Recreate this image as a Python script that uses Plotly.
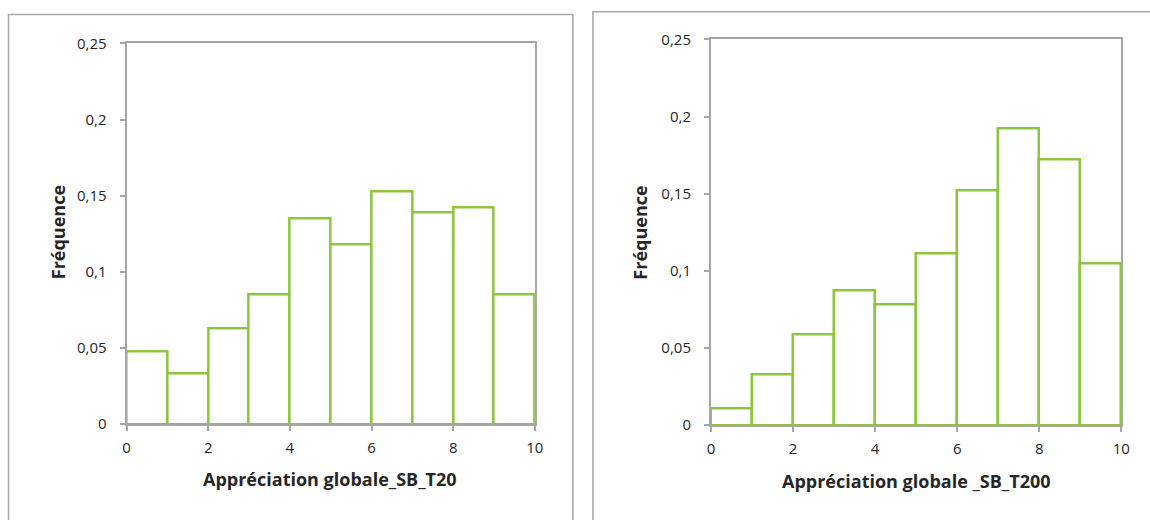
import plotly.graph_objects as go

# Data
bin_edges = [0, 1, 2, 3, 4, 5, 6, 7, 8, 9, 10]
freq_t20 = [0.048, 0.033, 0.063, 0.085, 0.135, 0.118, 0.153, 0.139, 0.142, 0.085]
freq_t200 = [0.011, 0.033, 0.059, 0.087, 0.078, 0.111, 0.152, 0.192, 0.172, 0.105]
x_ticks = [0, 2, 4, 6, 8, 10]
y_ticks = [0, 0.05, 0.1, 0.15, 0.2, 0.25]
y_tick_text = ["0", "0,05", "0,1", "0,15", "0,2", "0,25"]
y_title = "Fréquence"
x_title_left = "Appréciation globale_SB_T20"
x_title_right = "Appréciation globale _SB_T200"

W, H = 1150, 520
GREEN = "#8CC63F"
GREY = "#A6A6A6"
FONT = "Open Sans"

# empirical correction between page pixels and the photographed picture
SX, BX = 0.988, 3.5
SY, BY = 0.965, 9.5

centers = [(bin_edges[i] + bin_edges[i + 1]) / 2 for i in range(len(bin_edges) - 1)]

fig = go.Figure()
for vals, xa, ya in [(freq_t20, "x", "y"), (freq_t200, "x2", "y2")]:
    fig.add_trace(go.Bar(
        x=centers, y=vals, width=1, xaxis=xa, yaxis=ya,
        marker=dict(color="white", line=dict(color=GREEN, width=2.5)),
        showlegend=False, hoverinfo="skip",
    ))

def px_x(q):
    p = (q - BX) / SX
    return p / W

def px_y(q):
    p = (q - BY) / SY
    return 1 - p / H

axis_common = dict(showline=True, linecolor=GREY, linewidth=2, mirror=True,
                   showgrid=False, zeroline=False, ticks="outside", ticklen=5,
                   tickcolor=GREY, tickwidth=1.5,
                   tickfont=dict(family=FONT, size=15, color="#262626"))

fig.update_layout(
    width=W, height=H, margin=dict(l=0, r=0, t=0, b=0),
    paper_bgcolor="white", plot_bgcolor="white",
    bargap=0,
    xaxis=dict(domain=[px_x(126), px_x(534)], range=[0, 10], tickvals=x_ticks,
               anchor="y", ticklabelstandoff=4, **axis_common),
    yaxis=dict(domain=[px_y(424), px_y(42)], range=[0, 0.25], tickvals=y_ticks,
               ticktext=y_tick_text, anchor="x", ticklabelstandoff=10, **axis_common),
    xaxis2=dict(domain=[px_x(710), px_x(1120)], range=[0, 10], tickvals=x_ticks,
                anchor="y2", ticklabelstandoff=4, **axis_common),
    yaxis2=dict(domain=[px_y(425), px_y(38)], range=[0, 0.25], tickvals=y_ticks,
                ticktext=y_tick_text, anchor="x2", ticklabelstandoff=10, **axis_common),
)

# Outer panel frames
top_right = max(px_y(8), px_y(BY + 0.8 * SY))
top_right = min(top_right, 1 - 0.8 / H)
fig.add_shape(type="rect", xref="paper", yref="paper",
              x0=px_x(8), x1=px_x(572), y0=-0.1, y1=px_y(13),
              line=dict(color=GREY, width=1.5), fillcolor="rgba(0,0,0,0)", layer="below")
fig.add_shape(type="rect", xref="paper", yref="paper",
              x0=px_x(592), x1=1.05, y0=-0.1, y1=top_right,
              line=dict(color=GREY, width=1.5), fillcolor="rgba(0,0,0,0)", layer="below")

title_font = dict(family=FONT, size=18, color="#262626")
fig.add_annotation(text="<b>" + x_title_left + "</b>", xref="paper", yref="paper",
                   x=px_x(329), y=px_y(479), showarrow=False, font=title_font,
                   xanchor="center", yanchor="middle")
fig.add_annotation(text="<b>" + x_title_right + "</b>", xref="paper", yref="paper",
                   x=px_x(915), y=px_y(481), showarrow=False, font=title_font,
                   xanchor="center", yanchor="middle")
fig.add_annotation(text="<b>" + y_title + "</b>", xref="paper", yref="paper",
                   x=px_x(57), y=px_y(232), showarrow=False, font=title_font,
                   textangle=-90, xanchor="center", yanchor="middle")
fig.add_annotation(text="<b>" + y_title + "</b>", xref="paper", yref="paper",
                   x=px_x(639), y=px_y(232), showarrow=False, font=title_font,
                   textangle=-90, xanchor="center", yanchor="middle")

fig.write_html(
    "out.html",
    config={"displayModeBar": False},
    post_script="document.body.style.margin='0';document.body.style.overflow='hidden';",
)
